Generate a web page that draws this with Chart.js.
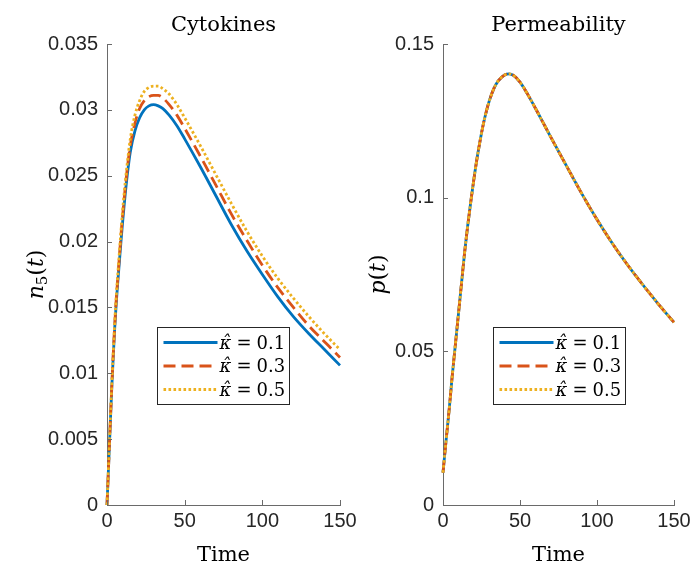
<!DOCTYPE html>
<html><head><meta charset="utf-8">
<script src="https://cdn.jsdelivr.net/npm/chart.js@4/dist/chart.umd.min.js"></script>
<style>
html,body{margin:0;padding:0;background:#fff;}
#wrap{position:relative;width:691px;height:565px;background:#fff;}
canvas{position:absolute;left:0;top:0;}
</style></head><body>
<div id="wrap"><canvas id="c1" width="691" height="565"></canvas><canvas id="c2" width="691" height="565"></canvas></div>
<script>
// ---- data ----
const timeCyt = [0,1,2,3,4,5,6,7,8,9,10,11,12,13,15,18,21,24,27,30,33,36,40,45,50,60,70,80,90,100,110,120,130,140,150];
const cytK01 = [0,0.0029,0.0058,0.0087,0.0112,0.0135,0.0154,0.0170,0.0185,0.0200,0.0214,0.0227,0.0239,0.0250,0.0268,0.0284,0.0294,0.0300,0.0303,0.0304,0.0303,0.0301,0.0296,0.0288,0.0278,0.0257,0.0235,0.0213,0.0193,0.0175,0.0158,0.0143,0.0130,0.0118,0.0106];
const cytK03 = [0,0.0029,0.0059,0.0088,0.0114,0.0137,0.0157,0.0173,0.0189,0.0205,0.0219,0.0232,0.0244,0.0255,0.0273,0.0290,0.0301,0.0307,0.0310,0.0311,0.0311,0.0309,0.0304,0.0296,0.0286,0.0265,0.0243,0.0221,0.0201,0.0182,0.0165,0.0150,0.0136,0.0124,0.0112];
const cytK05 = [0,0.0030,0.0060,0.0089,0.0115,0.0139,0.0159,0.0176,0.0192,0.0208,0.0223,0.0236,0.0248,0.0259,0.0278,0.0296,0.0307,0.0314,0.0317,0.0318,0.0318,0.0316,0.0312,0.0304,0.0294,0.0273,0.0251,0.0229,0.0208,0.0189,0.0172,0.0157,0.0143,0.0130,0.0118];

const timePerm = [0,2,4,6,8,10,12,14,16,18,20,22,24,26,28,30,33,36,40,43,46,50,55,60,65,70,80,90,100,110,120,130,140,150];
const permK01 = [0.0105,0.021,0.031,0.042,0.052,0.062,0.072,0.082,0.0907,0.0985,0.1058,0.1125,0.1183,0.1235,0.1278,0.1314,0.1355,0.1381,0.1399,0.1403,0.1397,0.1376,0.1336,0.1291,0.1244,0.1197,0.1105,0.1014,0.0929,0.0851,0.0780,0.0715,0.0653,0.0594];
const permK03 = [0.0105,0.021,0.031,0.042,0.052,0.062,0.072,0.082,0.0907,0.0985,0.1058,0.1125,0.1183,0.1235,0.1278,0.1314,0.1355,0.1381,0.1399,0.1403,0.1397,0.1376,0.1336,0.1291,0.1244,0.1197,0.1105,0.1014,0.0929,0.0851,0.0780,0.0715,0.0653,0.0594];
const permK05 = [0.0105,0.021,0.031,0.042,0.052,0.062,0.072,0.082,0.0907,0.0985,0.1058,0.1125,0.1183,0.1235,0.1278,0.1314,0.1355,0.1381,0.1399,0.1403,0.1397,0.1376,0.1336,0.1291,0.1244,0.1197,0.1105,0.1014,0.0929,0.0851,0.0780,0.0715,0.0653,0.0594];

const seriesLabels = ['0.1','0.3','0.5'];
const xTickVals = [0,50,100,150];
const xTickLabels = ['0','50','100','150'];
const yTickValsCyt = [0,0.005,0.01,0.015,0.02,0.025,0.03,0.035];
const yTickLabelsCyt = ['0','0.005','0.01','0.015','0.02','0.025','0.03','0.035'];
const yTickValsPerm = [0,0.05,0.1,0.15];
const yTickLabelsPerm = ['0','0.05','0.1','0.15'];

// ---- styles ----
const COLORS = ['#0072BD','#D95319','#EDB120'];
const DASHES = [[],[12,6],[2.6,2.4]];
const LW = 2.8;
const AXIS = '#6a6a6a';
const TXT = '#262626';
const SERIF = '"DejaVu Serif", serif';
const SANS = '"Liberation Sans", Arial, sans-serif';

function mkDatasets(time, arrs){
  return arrs.map((a,i)=>({
    label: seriesLabels[i],
    data: time.map((t,j)=>({x:t,y:a[j]})),
    borderColor: COLORS[i], backgroundColor: COLORS[i],
    borderWidth: LW, borderDash: DASHES[i], pointRadius: 0,
    cubicInterpolationMode: 'monotone', fill: false, clip: false,
    borderCapStyle: 'butt', order: 3 - i
  }));
}

function decor(cfg){
  return { id: 'decor', afterDraw(chart){
    const ctx = chart.ctx, ca = chart.chartArea, xs = chart.scales.x, ys = chart.scales.y;
    ctx.save();
    ctx.strokeStyle = AXIS; ctx.lineWidth = 1; ctx.setLineDash([]);
    ctx.beginPath();
    xTickVals.forEach(v=>{ const p = Math.round(xs.getPixelForValue(v))+0.5; ctx.moveTo(p, ca.bottom); ctx.lineTo(p, ca.bottom-5); });
    cfg.yTicks.forEach(v=>{ const p = Math.round(ys.getPixelForValue(v))+0.5; ctx.moveTo(ca.left, p); ctx.lineTo(ca.left+5, p); });
    ctx.stroke();
    ctx.fillStyle = '#000'; ctx.textBaseline = 'alphabetic'; ctx.textAlign = 'center';
    ctx.font = '21px ' + SERIF;
    ctx.fillText(cfg.title, (ca.left+ca.right)/2, 31);
    ctx.fillText('Time', (ca.left+ca.right)/2, 561);
    ctx.save();
    ctx.translate(cfg.ylx, (ca.top+ca.bottom)/2);
    ctx.rotate(-Math.PI/2);
    ctx.textAlign = 'left';
    const parts = cfg.ylabel;
    let w = 0;
    parts.forEach(p=>{ ctx.font = p.f; w += ctx.measureText(p.t).width; });
    let x = -w/2;
    parts.forEach(p=>{ ctx.font = p.f; ctx.fillText(p.t, x, 7 + (p.dy||0)); x += ctx.measureText(p.t).width; });
    ctx.restore();
    const bx = Math.round(ca.left + 50) + 0.5, by = 327.5, bw = 132, bh = 77;
    ctx.fillStyle = '#fff'; ctx.fillRect(bx, by, bw, bh);
    ctx.strokeStyle = '#262626'; ctx.lineWidth = 1; ctx.setLineDash([]);
    ctx.strokeRect(bx, by, bw, bh);
    const rows = [15, 38.5, 62];
    rows.forEach((ry,i)=>{
      const y = by + ry;
      ctx.save();
      ctx.strokeStyle = COLORS[i]; ctx.lineWidth = LW; ctx.setLineDash(DASHES[i]); ctx.lineCap = 'butt';
      ctx.beginPath(); ctx.moveTo(bx+6, y); ctx.lineTo(bx+60, y); ctx.stroke();
      ctx.restore();
      ctx.fillStyle = '#000'; ctx.textAlign = 'left';
      const tx = bx + 62;
      ctx.font = 'italic 18px ' + SERIF;
      ctx.fillText('\u03BA\u0302', tx, y + 6);
      ctx.font = '18px ' + SERIF;
      ctx.fillText('=', tx + 17, y + 6);
      ctx.fillText(seriesLabels[i], tx + 37, y + 6);
    });
    ctx.restore();
  }};
}

function mkChart(id, time, arrs, yMax, yVals, yLabels, leftW, rightPad, cfg){
  return new Chart(document.getElementById(id), {
    type: 'line',
    data: { datasets: mkDatasets(time, arrs) },
    options: {
      responsive: false, animation: false, devicePixelRatio: 1,
      layout: { padding: { left: 0, right: rightPad, top: 44, bottom: 0 } },
      plugins: { legend: { display: false }, tooltip: { enabled: false }, title: { display: false } },
      scales: {
        x: {
          type: 'linear', min: 0, max: 150,
          afterBuildTicks: s => { s.ticks = xTickVals.map(v=>({value:v})); },
          afterFit: s => { s.height = 60; s.paddingLeft = 0; s.paddingRight = 0; },
          grid: { drawOnChartArea: false, drawTicks: false },
          border: { display: true, color: AXIS, width: 1 },
          ticks: { color: TXT, font: { family: SANS, size: 20 }, padding: 4, maxRotation: 0,
                   callback: (v, i) => xTickLabels[i] }
        },
        y: {
          type: 'linear', min: 0, max: yMax,
          afterBuildTicks: s => { s.ticks = yVals.map(v=>({value:v})); },
          afterFit: s => { s.width = leftW; s.paddingTop = 0; s.paddingBottom = 0; },
          grid: { drawOnChartArea: false, drawTicks: false },
          border: { display: true, color: AXIS, width: 1 },
          ticks: { color: TXT, font: { family: SANS, size: 20 }, padding: 9,
                   callback: (v, i) => yLabels[i] }
        }
      }
    },
    plugins: [decor(cfg)]
  });
}

mkChart('c1', timeCyt, [cytK01, cytK03, cytK05], 0.035, yTickValsCyt, yTickLabelsCyt, 107, 691-340, {
  title: 'Cytokines', yTicks: yTickValsCyt, ylx: 36,
  ylabel: [
    { t: 'n', f: 'italic 22px ' + SERIF },
    { t: '5', f: '15px ' + SERIF, dy: 4 },
    { t: '(', f: '22px ' + SERIF },
    { t: 't', f: 'italic 22px ' + SERIF },
    { t: ')', f: '22px ' + SERIF }
  ]
});
mkChart('c2', timePerm, [permK01, permK03, permK05], 0.15, yTickValsPerm, yTickLabelsPerm, 443, 691-674, {
  title: 'Permeability', yTicks: yTickValsPerm, ylx: 378,
  ylabel: [
    { t: 'p', f: 'italic 22px ' + SERIF },
    { t: '(', f: '22px ' + SERIF },
    { t: 't', f: 'italic 22px ' + SERIF },
    { t: ')', f: '22px ' + SERIF }
  ]
});
</script>
</body></html>
